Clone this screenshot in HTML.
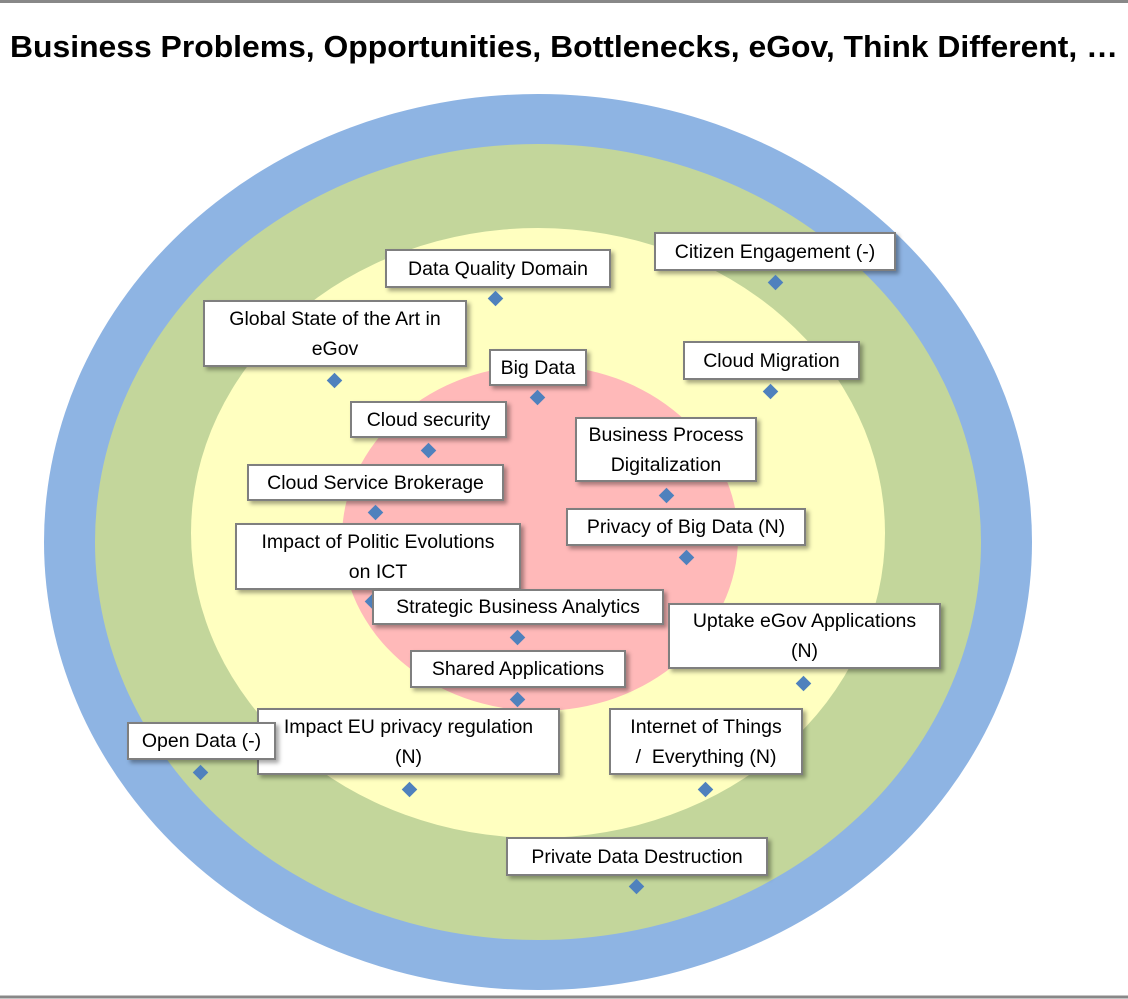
<!DOCTYPE html>
<html><head><meta charset="utf-8"><style>
html,body{margin:0;padding:0;background:#fff;}
#c{position:relative;width:1128px;height:999px;overflow:hidden;font-family:"Liberation Sans",sans-serif;}
.b{position:absolute;background:#fff;border:2px solid #7f7f7f;box-sizing:border-box;box-shadow:3px 3px 4px rgba(0,0,0,0.35);font-size:19.5px;line-height:30px;text-align:center;color:#000;display:flex;align-items:center;justify-content:center;white-space:nowrap;}
.d{position:absolute;width:11px;height:11px;background:#4f81bd;transform:rotate(45deg);}
</style></head><body><div id="c">
<svg width="1128" height="999" style="position:absolute;left:0;top:0">
<line x1="0" y1="1.5" x2="1128" y2="1.5" stroke="#888" stroke-width="3"/>
<line x1="0" y1="997" x2="1128" y2="997" stroke="#888" stroke-width="3"/>
<text x="10" y="57" font-family="Liberation Sans" font-weight="bold" font-size="31" textLength="1108" lengthAdjust="spacingAndGlyphs">Business Problems, Opportunities, Bottlenecks, eGov, Think Different, …</text>
<ellipse cx="538" cy="542" rx="494" ry="448" fill="#8eb4e3"/>
<ellipse cx="538" cy="542" rx="443" ry="398" fill="#c3d69b"/>
<ellipse cx="538" cy="533" rx="347" ry="305" fill="#ffffc0"/>
<ellipse cx="540" cy="538" rx="198" ry="173" fill="#ffb9b9"/>
</svg>
<div class="b" style="left:385px;top:249px;width:226px;height:39px">Data Quality Domain</div><div class="d" style="left:490px;top:293px"></div>
<div class="b" style="left:654px;top:232px;width:242px;height:39px">Citizen Engagement (-)</div><div class="d" style="left:770px;top:277px"></div>
<div class="b" style="left:203px;top:300px;width:264px;height:67px;white-space:normal">Global State of the Art in<br>eGov</div><div class="d" style="left:329px;top:375px"></div>
<div class="b" style="left:489px;top:349px;width:98px;height:37px">Big Data</div><div class="d" style="left:532px;top:392px"></div>
<div class="b" style="left:683px;top:341px;width:177px;height:39px">Cloud Migration</div><div class="d" style="left:765px;top:386px"></div>
<div class="b" style="left:350px;top:401px;width:157px;height:37px">Cloud security</div><div class="d" style="left:423px;top:445px"></div>
<div class="b" style="left:575px;top:417px;width:182px;height:65px">Business Process<br>Digitalization</div><div class="d" style="left:661px;top:490px"></div>
<div class="b" style="left:247px;top:464px;width:257px;height:37px">Cloud Service Brokerage</div><div class="d" style="left:370px;top:507px"></div>
<div class="b" style="left:566px;top:508px;width:240px;height:38px">Privacy of Big Data (N)</div><div class="d" style="left:681px;top:552px"></div>
<div class="d" style="left:367px;top:596px"></div>
<div class="b" style="left:235px;top:523px;width:286px;height:67px">Impact of Politic Evolutions<br>on ICT</div>
<div class="b" style="left:372px;top:589px;width:292px;height:36px">Strategic Business Analytics</div><div class="d" style="left:512px;top:632px"></div>
<div class="b" style="left:668px;top:603px;width:273px;height:66px">Uptake eGov Applications<br>(N)</div><div class="d" style="left:798px;top:678px"></div>
<div class="b" style="left:410px;top:650px;width:216px;height:38px">Shared Applications</div><div class="d" style="left:512px;top:694px"></div>
<div class="b" style="left:257px;top:708px;width:303px;height:67px">Impact EU privacy regulation<br>(N)</div><div class="d" style="left:404px;top:784px"></div>
<div class="b" style="left:127px;top:722px;width:149px;height:38px">Open Data (-)</div><div class="d" style="left:195px;top:767px"></div>
<div class="b" style="left:609px;top:708px;width:194px;height:67px">Internet of Things<br>/&nbsp; Everything (N)</div><div class="d" style="left:700px;top:784px"></div>
<div class="b" style="left:506px;top:837px;width:262px;height:39px">Private Data Destruction</div><div class="d" style="left:631px;top:881px"></div>
</div></body></html>
